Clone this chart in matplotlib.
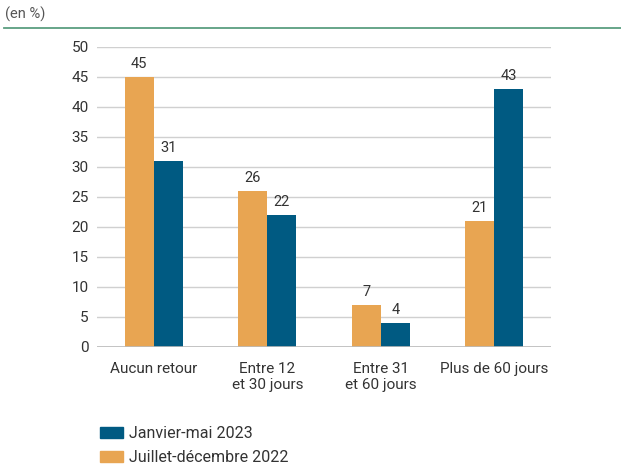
import numpy as np
import matplotlib.pyplot as plt
from matplotlib.patches import Patch
from matplotlib.lines import Line2D

plt.rcParams['font.family'] = ['Roboto', 'DejaVu Sans']

categories = ['Aucun retour', 'Entre 12\net 30 jours', 'Entre 31\net 60 jours', 'Plus de 60 jours']
juillet_dec_2022 = [45, 26, 7, 21]
janvier_mai_2023 = [31, 22, 4, 43]
yticks = [0, 5, 10, 15, 20, 25, 30, 35, 40, 45, 50]

orange = '#E8A552'
blue = '#005A82'
txt = '#333333'

fig = plt.figure(figsize=(6.21, 4.66), dpi=100)
ax = fig.add_axes([97 / 621, 1 - 347 / 466, 454 / 621, 300 / 466])

x = np.arange(len(categories))
w = 0.257
b1 = ax.bar(x - w / 2, juillet_dec_2022, w, color=orange, zorder=3)
b2 = ax.bar(x + w / 2, janvier_mai_2023, w, color=blue, zorder=3)

for bars, vals in ((b1, juillet_dec_2022), (b2, janvier_mai_2023)):
    for rect, v in zip(bars, vals):
        ax.text(rect.get_x() + rect.get_width() / 2, v + 1.0, str(v),
                ha='center', va='bottom', fontsize=10.5, color=txt)

ax.set_xlim(-0.5, 3.5)
ax.set_ylim(0, 50)
ax.set_yticks(yticks)
ax.set_xticks(x)
ax.set_xticklabels(categories, fontsize=11, color=txt, linespacing=1.15)
ax.tick_params(axis='y', labelsize=11, colors=txt, length=0, pad=6)
ax.tick_params(axis='x', length=0, pad=11)
ax.grid(axis='y', color='#D0D0D0', linewidth=1, zorder=0)
ax.axhline(0, color='#BBBBBB', linewidth=1.2, zorder=4)
for s in ax.spines.values():
    s.set_visible(False)

# header: unit and green rule
fig.text(5 / 621, 1 - 14 / 466, '(en %)', fontsize=10.5, color='#555555', va='center')
fig.add_artist(Line2D([4 / 621, 1], [1 - 28 / 466, 1 - 28 / 466],
                      color='#5B9E80', linewidth=1.3, transform=fig.transFigure))

handles = [Patch(color=blue, label='Janvier-mai 2023'),
           Patch(color=orange, label='Juillet-décembre 2022')]
fig.legend(handles=handles, loc='upper left', bbox_to_anchor=(97 / 621, 1 - 423 / 466),
           frameon=False, fontsize=11.5, labelcolor=txt, handlelength=1.45,
           handleheight=0.7, handletextpad=0.35, labelspacing=0.55,
           borderaxespad=0, borderpad=0.2)

fig.savefig('out.png', dpi=100)
